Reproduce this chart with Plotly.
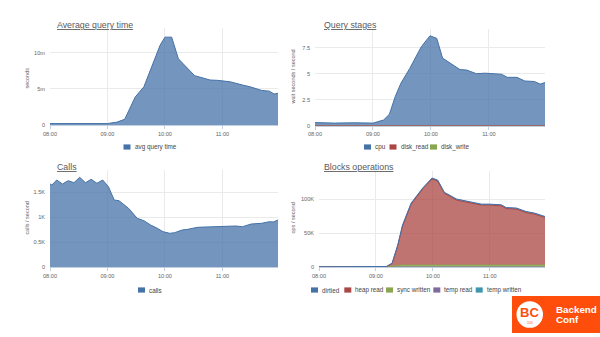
import plotly.graph_objects as go

DAY = "2016-01-01 "

# ---------------- data ----------------
avg_times = ["08:00", "08:30", "09:00", "09:10", "09:18", "09:29", "09:38", "09:55", "10:00",
             "10:07", "10:14", "10:31", "10:38", "10:47", "10:55", "11:08", "11:21", "11:29",
             "11:41", "11:49", "11:54", "11:58"]
avg_query_time = [0.0002, 0.00015, 0.0002, 0.0004, 0.0008, 0.0039, 0.0053, 0.0111, 0.0122,
                  0.0122, 0.0092, 0.00685, 0.0066, 0.00625, 0.0062, 0.0060, 0.00555, 0.0053,
                  0.0048, 0.0047, 0.0043, 0.0044]

stage_times = ["08:00", "08:20", "08:40", "09:00", "09:11", "09:17", "09:23", "09:29", "09:38",
               "09:50", "09:59", "10:06", "10:12", "10:30", "10:37", "10:47", "10:56", "11:13",
               "11:19", "11:29", "11:37", "11:47", "11:53", "11:58"]
cpu = [0.30, 0.25, 0.28, 0.25, 0.55, 1.1, 2.8, 4.1, 5.5, 7.6, 8.65, 8.4, 6.5, 5.4, 5.35, 5.0,
       5.05, 4.95, 4.65, 4.65, 4.3, 4.25, 4.0, 4.15]
disk_read = [0.0] * len(stage_times)
disk_write = [0.0] * len(stage_times)

calls_times = ["08:00", "08:02", "08:07", "08:13", "08:19", "08:25", "08:31", "08:37", "08:43",
               "08:49", "08:55", "09:01", "09:07", "09:12", "09:22", "09:31", "09:38", "09:45",
               "09:52", "09:58", "10:05", "10:10", "10:18", "10:24", "10:34", "10:43", "10:59",
               "11:14", "11:21", "11:30", "11:41", "11:49", "11:53", "11:58"]
calls = [1666, 1646, 1746, 1666, 1732, 1692, 1800, 1692, 1760, 1680, 1746, 1612, 1346, 1332,
         1180, 980, 932, 846, 780, 712, 680, 692, 746, 760, 800, 806, 812, 826, 812, 866, 880,
         912, 906, 946]

block_times = ["08:00", "09:00", "09:11", "09:17", "09:23", "09:28", "09:37", "09:49", "09:59",
               "10:05", "10:12", "10:25", "10:35", "10:51", "10:59", "11:12", "11:17", "11:28",
               "11:38", "11:47", "11:58"]
dirtied = [200, 200, 300, 800, 1200, 1500, 1500, 1500, 1500, 1500, 1500, 1500, 1500, 1500,
           1500, 1500, 1500, 1500, 1500, 1500, 1500]
heap_read = [100, 100, 300, 3700, 29000, 57500, 89500, 111500, 126500, 123500, 105500, 95500,
             93000, 88100, 88100, 87100, 83100, 82300, 77300, 74900, 69900]
sync_written = [100, 100, 300, 1400, 2700, 3000, 3000, 3000, 3000, 3000, 3000, 3000, 3000,
                3000, 3000, 3000, 3000, 3000, 3000, 3000, 3000]
temp_read = [0] * len(block_times)
temp_written = [300] * len(block_times)

hour_ticks = ["08:00", "09:00", "10:00", "11:00"]

# ---------------- style ----------------
BLUE, RED, GREEN, PURPLE, TEAL = "#4572A7", "#AA4643", "#89A54E", "#80699B", "#3D96AE"
FONT = "Liberation Sans, Arial, sans-serif"
W, H = 600, 337


def fill_of(c, a=0.75):
    r, g, b = int(c[1:3], 16), int(c[3:5], 16), int(c[5:7], 16)
    return f"rgba({r},{g},{b},{a})"


def px_x(p):
    return p / W


def px_y(p):
    return 1 - p / H


def ts(lst):
    return [DAY + t for t in lst]


fig = go.Figure()

# chart 1
fig.add_trace(go.Scatter(x=ts(avg_times), y=avg_query_time, name="avg query time",
                         mode="lines", fill="tozeroy", line=dict(color=BLUE, width=1),
                         fillcolor=fill_of(BLUE), xaxis="x", yaxis="y"))
# chart 2 (stacked; first legend series sits on top)
for name, vals, col in [("disk_write", disk_write, GREEN), ("disk_read", disk_read, RED),
                        ("cpu", cpu, BLUE)]:
    fig.add_trace(go.Scatter(x=ts(stage_times), y=vals, name=name, mode="lines",
                             stackgroup="s2", line=dict(color=col, width=1),
                             fillcolor=fill_of(col), xaxis="x2", yaxis="y2"))
# chart 3
fig.add_trace(go.Scatter(x=ts(calls_times), y=calls, name="calls", mode="lines",
                         fill="tozeroy", line=dict(color=BLUE, width=1),
                         fillcolor=fill_of(BLUE), xaxis="x3", yaxis="y3"))
# chart 4 (stacked, bottom to top)
for name, vals, col in [("temp written", temp_written, TEAL), ("temp read", temp_read, PURPLE),
                        ("sync written", sync_written, GREEN), ("heap read", heap_read, RED),
                        ("dirtied", dirtied, BLUE)]:
    fig.add_trace(go.Scatter(x=ts(block_times), y=vals, name=name, mode="lines",
                             stackgroup="s4", line=dict(color=col, width=1),
                             fillcolor=fill_of(col), xaxis="x4", yaxis="y4"))

fig.update_traces(showlegend=False, hoverinfo="skip")

panels = {
    # key: (left, right, top, bottom, ymax, tickvals, ticktext)
    "1": (50, 278, 28, 125, 0.01347, [0, 0.005, 0.010], ["0", "5m", "10m"]),
    "2": (315, 545, 29, 125.7, 9.3, [0, 2.5, 5, 7.5], ["0", "2.5", "5", "7.5"]),
    "3": (50, 278, 170, 267.3, 1946, [0, 500, 1000, 1500], ["0", "0.5K", "1K", "1.5K"]),
    "4": (319, 545, 171, 267.3, 141600, [0, 50000, 100000], ["0", "50K", "100K"]),
}

layout = dict(width=W, height=H, margin=dict(l=0, r=0, t=0, b=0, pad=0, autoexpand=False),
              autosize=False, paper_bgcolor="white", plot_bgcolor="white", showlegend=False,
              font=dict(family=FONT, color="#666666"))
for k, (l, r, t, b, ymax, tv, tt) in panels.items():
    xn = "xaxis" if k == "1" else f"xaxis{k}"
    yn = "yaxis" if k == "1" else f"yaxis{k}"
    yref = "y" if k == "1" else f"y{k}"
    xref = "x" if k == "1" else f"x{k}"
    layout[xn] = dict(domain=[px_x(l), px_x(r)], anchor=yref, type="date",
                      range=[DAY + "08:00", DAY + "11:58"], automargin=False,
                      tickvals=ts(hour_ticks), ticktext=hour_ticks,
                      showgrid=True, gridcolor="#EAEAEA", gridwidth=1,
                      showline=True, linecolor="#C0D0E0", linewidth=1,
                      ticks="outside", ticklen=3, tickcolor="#C0D0E0",
                      tickfont=dict(size=5.6, color="#666666", family=FONT),
                      zeroline=False, fixedrange=True)
    layout[yn] = dict(domain=[px_y(b), px_y(t)], anchor=xref, range=[0, ymax],
                      automargin=False,
                      tickvals=tv, ticktext=tt, showgrid=True, gridcolor="#EAEAEA",
                      gridwidth=1, zeroline=False, showline=False, ticks="",
                      ticklabelstandoff=4,
                      tickfont=dict(size=5.6, color="#666666", family=FONT),
                      fixedrange=True)
fig.update_layout(**layout)

annotations = []
shapes = []

# titles
titles = [("Average query time", 55, 25), ("Query stages", 322, 25),
          ("Calls", 55, 166.5), ("Blocks operations", 322, 166.5)]
for txt, x, y in titles:
    annotations.append(dict(text=f"<u>{txt}</u>", x=px_x(x), y=px_y(y), xref="paper",
                            yref="paper", xanchor="left", yanchor="middle", showarrow=False,
                            font=dict(size=8.8, color="#5A5A5A", family=FONT)))

# y titles
ytitles = [("seconds", 26.5, 78), ("wait seconds / second", 292.5, 77),
           ("calls / second", 26.5, 218), ("ops / second", 292.5, 218)]
for txt, x, y in ytitles:
    annotations.append(dict(text=txt, x=px_x(x), y=px_y(y), xref="paper", yref="paper",
                            xanchor="center", yanchor="middle", showarrow=False,
                            textangle=-90, font=dict(size=5.5, color="#666666", family=FONT)))

# legends (swatch left x, label, colour, row y)
legend_rows = [
    (147, [(123.5, "avg query time", BLUE)]),
    (147, [(364, "cpu", BLUE), (389.5, "disk_read", RED), (430, "disk_write", GREEN)]),
    (290, [(138, "calls", BLUE)]),
    (290, [(311, "dirtied", BLUE), (344.3, "heap read", RED), (386, "sync written", GREEN),
           (433.3, "temp read", PURPLE), (475.7, "temp written", TEAL)]),
]
for y, items in legend_rows:
    for x, label, col in items:
        shapes.append(dict(type="rect", xref="paper", yref="paper", x0=px_x(x),
                           x1=px_x(x + 7), y0=px_y(y + 2.6), y1=px_y(y - 2.6),
                           fillcolor=col, line=dict(width=0), layer="above"))
        annotations.append(dict(text=label, x=px_x(x + 9), y=px_y(y), xref="paper",
                                yref="paper", xanchor="left", yanchor="middle",
                                showarrow=False,
                                font=dict(size=6.3, color="#444444", family=FONT)))

# logo
ORANGE = "#FF4E0C"
shapes.append(dict(type="rect", xref="paper", yref="paper", x0=px_x(512), x1=1,
                   y0=px_y(333), y1=px_y(296), fillcolor=ORANGE, line=dict(width=0),
                   layer="above"))
shapes.append(dict(type="circle", xref="paper", yref="paper", x0=px_x(516.5), x1=px_x(543),
                   y0=px_y(327.8), y1=px_y(301.2), fillcolor="white", line=dict(width=0),
                   layer="above"))
annotations.append(dict(text="<b>BC</b>", x=px_x(529.8), y=px_y(312.5), xref="paper",
                        yref="paper", xanchor="center", yanchor="middle", showarrow=False,
                        font=dict(size=13, color=ORANGE, family=FONT)))
annotations.append(dict(text="2016", x=px_x(529.8), y=px_y(322.5), xref="paper", yref="paper",
                        xanchor="center", yanchor="middle", showarrow=False,
                        font=dict(size=2.6, color=ORANGE, family=FONT)))
annotations.append(dict(text="<b>Backend</b>", x=px_x(553.5), y=px_y(309.5), xref="paper",
                        yref="paper", xanchor="left", yanchor="middle", showarrow=False,
                        font=dict(size=9.8, color="white", family=FONT)))
annotations.append(dict(text="<b>Conf</b>", x=px_x(553.5), y=px_y(319.5), xref="paper",
                        yref="paper", xanchor="left", yanchor="middle", showarrow=False,
                        font=dict(size=9.8, color="white", family=FONT)))

fig.update_layout(annotations=annotations, shapes=shapes)
fig.write_html("out.html")
